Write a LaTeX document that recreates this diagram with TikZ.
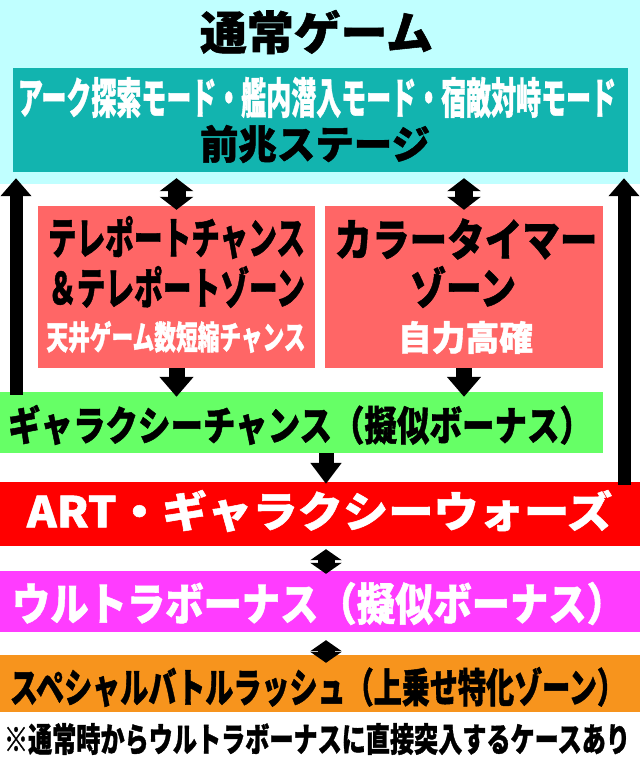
\documentclass[tikz,border=0pt]{standalone}
\usepackage{fontspec}
\newfontfamily\jp{Noto Sans CJK JP}[BoldFeatures={FakeBold=1.2}]
\usetikzlibrary{arrows.meta,calc}

\definecolor{normalbg}{RGB}{192,255,255}
\definecolor{stagebg}{RGB}{18,180,175}
\definecolor{zonebg}{RGB}{255,102,102}
\definecolor{chancebg}{RGB}{102,255,102}
\definecolor{artbg}{RGB}{255,0,0}
\definecolor{ultrabg}{RGB}{255,60,255}
\definecolor{rushbg}{RGB}{247,148,29}

\newcommand{\fitline}[3]{\resizebox*{#1pt}{#2pt}{\jp\bfseries #3}}

\begin{document}
\begin{tikzpicture}[x=1pt,y=-1pt]
\tikzstyle{every node}+=[inner sep=0pt]
\tikzstyle{box}=[rectangle,draw=none]
\tikzstyle{bigarrow}=[line width=13pt,-{Triangle[width=30pt,length=18pt]}]
\tikzstyle{downarrow}=[line width=16pt,-{Triangle[width=33pt,length=20pt]}]
\tikzstyle{dblarrow}=[line width=18pt,{Triangle[width=33pt,length=13pt]}-{Triangle[width=33pt,length=13pt]}]
\tikzstyle{smalldbl}=[line width=17pt,{Triangle[width=31pt,length=11pt]}-{Triangle[width=31pt,length=11pt]}]
\useasboundingbox (0,0) rectangle (640,761);
\fill[white] (0,0) rectangle (640,761);
\node[box,fill=normalbg,minimum width=640pt,minimum height=184pt] (normal) at (320,92) {};
\node[box,fill=stagebg,minimum width=615pt,minimum height=104pt] (stage) at (320.5,120) {};
\node[box,fill=zonebg,minimum width=277pt,minimum height=162pt] (tele) at (176.5,287) {};
\node[box,fill=zonebg,minimum width=278pt,minimum height=162pt] (color) at (464,287) {};
\node[box,fill=chancebg,minimum width=603pt,minimum height=61pt] (galaxy) at (301.5,422.5) {};
\node[box,fill=artbg,minimum width=640pt,minimum height=64pt] (art) at (320,514) {};
\node[box,fill=ultrabg,minimum width=640pt,minimum height=61pt] (ultra) at (320,601.5) {};
\node[box,fill=rushbg,minimum width=640pt,minimum height=57pt] (rush) at (320,683.5) {};
\node (normaltxt) at (316.5,32) {\fitline{233}{44}{通常ゲーム}};
\node[white] (stagetxt1) at (317,97.5) {\fitline{598}{41}{アーク探索モード・艦内潜入モード・宿敵対峙モード}};
\node (stagetxt2) at (315,144) {\fitline{230}{38}{前兆ステージ}};
\node (teletxt1) at (176.5,237.5) {\fitline{257}{43}{テレポートチャンス}};
\node (teletxt2) at (176.5,287) {\fitline{257}{42}{＆テレポートゾーン}};
\node[white] (teletxt3) at (176,337) {\fitline{259}{32}{天井ゲーム数短縮チャンス}};
\node (colortxt1) at (466,239) {\fitline{263}{41}{カラータイマー}};
\node (colortxt2) at (463,287) {\fitline{106}{42}{ゾーン}};
\node[white] (colortxt3) at (465.5,337.5) {\fitline{135}{33}{自力高確}};
\node (galaxytxt) at (300,425) {\fitline{584}{40}{ギャラクシーチャンス（擬似ボーナス）}};
\node[white] (arttxt) at (319.5,511) {\fitline{585}{42}{ART・ギャラクシーウォーズ}};
\node[white] (ultratxt) at (318.5,603.5) {\fitline{613}{43}{ウルトラボーナス（擬似ボーナス）}};
\node (rushtxt) at (317.5,687) {\fitline{615}{40}{スペシャルバトルラッシュ（上乗せ特化ゾーン）}};
\node (note) at (317,739) {\fitline{626}{32}{※通常時からウルトラボーナスに直接突入するケースあり}};
\coordinate (upL) at (16,0);
\coordinate (upR) at (624,0);
\coordinate (mid) at (326,0);
\draw[bigarrow] ($(upL |- galaxy.north)+(0,3)$) -- ($(upL |- normal.south)+(0,-6)$);
\draw[bigarrow] ($(upR |- art.north)+(0,3)$) -- ($(upR |- normal.south)+(0,-6)$);
\draw[dblarrow] ($(stage.south -| tele.north)+(0,6)$) -- ($(tele.north)+(0,4)$);
\draw[dblarrow] ($(stage.south -| color.north)+(0,6)$) -- ($(color.north)+(0,4)$);
\draw[downarrow] (tele.south) -- ($(galaxy.north -| tele.south)+(0,5)$);
\draw[downarrow] (color.south) -- ($(galaxy.north -| color.south)+(0,5)$);
\draw[line width=15pt,-{Triangle[width=30pt,length=21pt]}] (mid |- galaxy.south) -- ($(mid |- art.north)+(0,2)$);
\draw[smalldbl] ($(mid |- art.south)+(0,3)$) -- ($(mid |- ultra.north)+(0,3)$);
\draw[smalldbl] ($(mid |- ultra.south)+(0,8)$) -- ($(mid |- rush.north)+(0,8)$);
\end{tikzpicture}
\end{document}
